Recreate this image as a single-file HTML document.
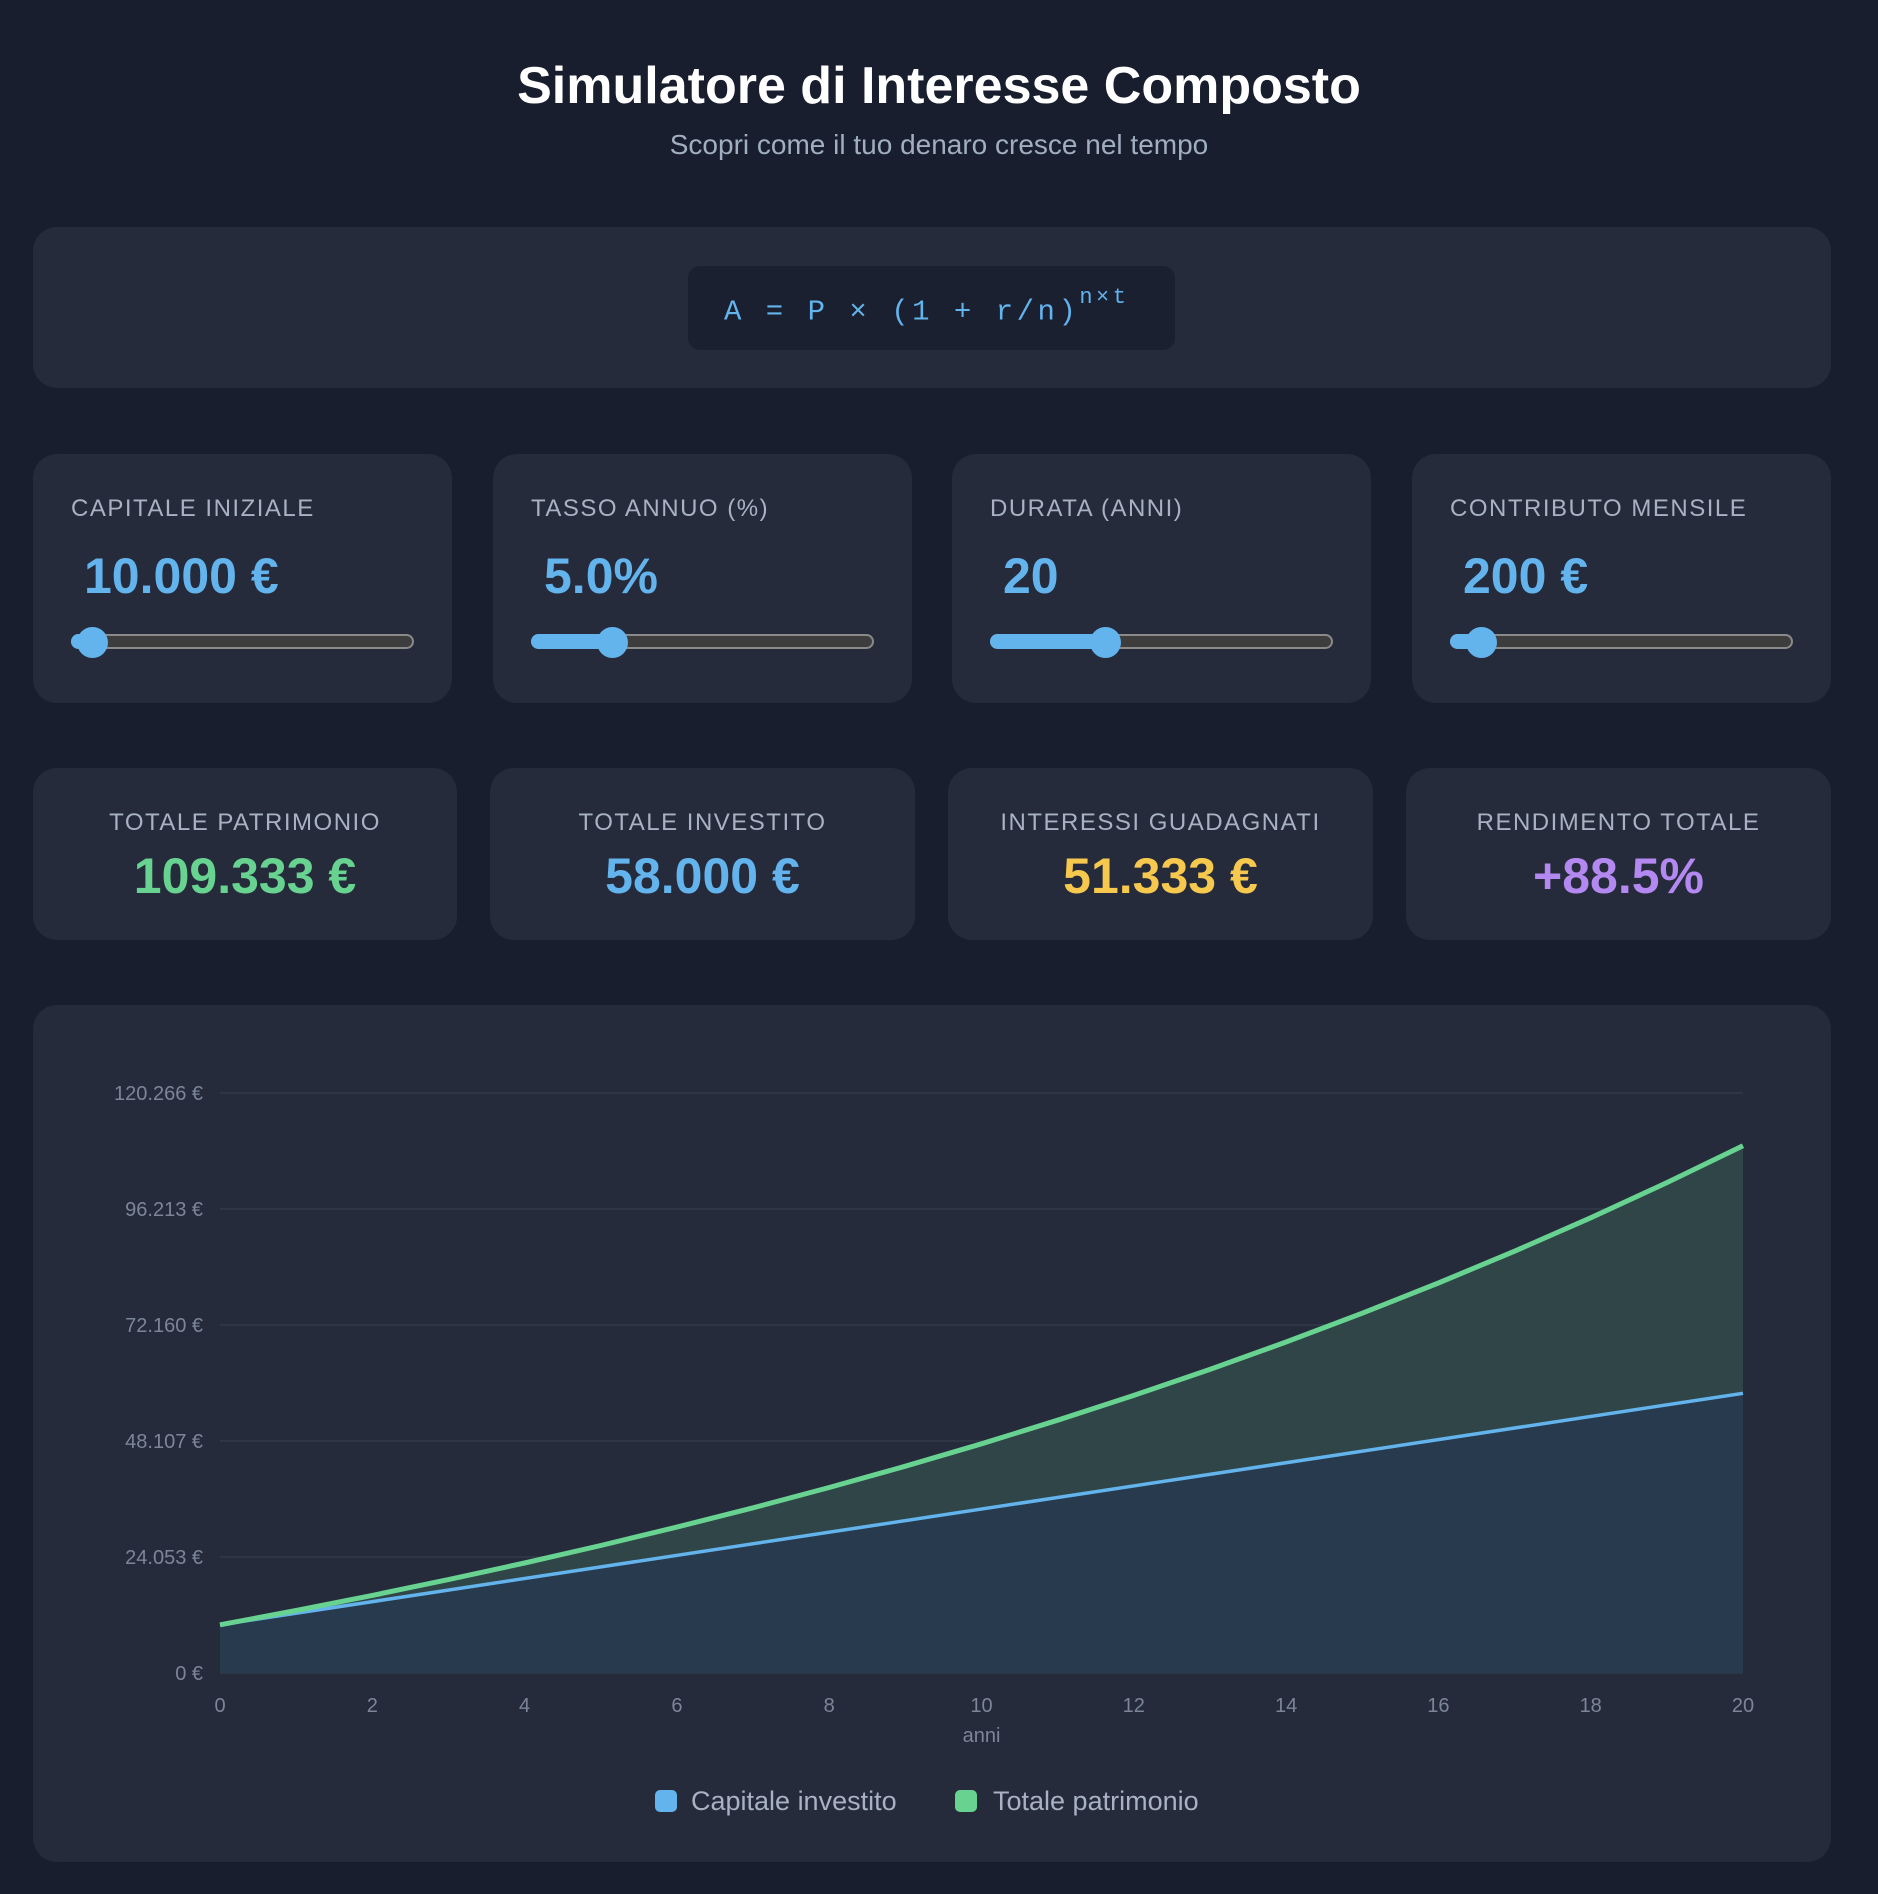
<!DOCTYPE html>
<html><head><meta charset="utf-8"><style>
*{margin:0;padding:0;box-sizing:border-box}
body{width:1878px;height:1894px;background:#181e2d;font-family:"Liberation Sans",sans-serif;position:relative;overflow:hidden;color:#fff}
.a{position:absolute}
.card{position:absolute;background:#252b3b;border-radius:24px}
h1{position:absolute;top:56px;left:0;width:1878px;text-align:center;font-size:52px;font-weight:bold;color:#fff}
.sub{top:129px;left:0;width:1878px;text-align:center;font-size:28px;color:#a0aec0}
.lab{font-size:24px;color:#a8b2c2;letter-spacing:1.5px}
.val{font-size:50px;font-weight:bold;color:#63b3ed}
.track{position:absolute;height:15px;border-radius:8px;background:#3d3d3d;border:2px solid #8a8a8a}
.fill{position:absolute;height:15px;border-radius:8px 0 0 8px;background:#63b3ed}
.thumb{position:absolute;width:31px;height:31px;border-radius:50%;background:#63b3ed}
.st{position:absolute;width:100%;text-align:center}
</style></head><body>
<h1>Simulatore di Interesse Composto</h1>
<div class="a sub">Scopri come il tuo denaro cresce nel tempo</div>

<div class="card" style="left:33px;top:227px;width:1798px;height:161px"></div>
<div class="a" style="left:688px;top:266px;width:487px;height:84px;background:#1a2030;border-radius:12px"></div>
<div class="a" style="left:724px;top:291px;font-family:'Liberation Mono',monospace;font-size:29px;letter-spacing:3.5px;color:#63b3ed;white-space:pre">A = P × (1 + r/n)<sup style="font-size:22px;position:relative;top:-6px">n×t</sup></div>

<div class="card" style="left:33px;top:454px;width:419px;height:249px"></div>
<div class="card" style="left:493px;top:454px;width:419px;height:249px"></div>
<div class="card" style="left:952px;top:454px;width:419px;height:249px"></div>
<div class="card" style="left:1412px;top:454px;width:419px;height:249px"></div>

<div class="a lab" style="left:71px;top:495px">CAPITALE INIZIALE</div>
<div class="a lab" style="left:531px;top:495px">TASSO ANNUO (%)</div>
<div class="a lab" style="left:990px;top:495px">DURATA (ANNI)</div>
<div class="a lab" style="left:1450px;top:495px">CONTRIBUTO MENSILE</div>
<div class="a val" style="left:84px;top:547px">10.000 €</div>
<div class="a val" style="left:544px;top:547px">5.0%</div>
<div class="a val" style="left:1003px;top:547px">20</div>
<div class="a val" style="left:1463px;top:547px">200 €</div>

<div class="track" style="left:71px;top:634px;width:343px"></div>
<div class="fill" style="left:71px;top:634px;width:21px"></div>
<div class="thumb" style="left:77px;top:627px"></div>
<div class="track" style="left:531px;top:634px;width:343px"></div>
<div class="fill" style="left:531px;top:634px;width:81px"></div>
<div class="thumb" style="left:597px;top:627px"></div>
<div class="track" style="left:990px;top:634px;width:343px"></div>
<div class="fill" style="left:990px;top:634px;width:115px"></div>
<div class="thumb" style="left:1090px;top:627px"></div>
<div class="track" style="left:1450px;top:634px;width:343px"></div>
<div class="fill" style="left:1450px;top:634px;width:31px"></div>
<div class="thumb" style="left:1466px;top:627px"></div>

<div class="card" style="left:33px;top:768px;width:424px;height:172px"><div class="st lab" style="top:41px">TOTALE PATRIMONIO</div><div class="st val" style="top:79px;color:#68d391">109.333 €</div></div>
<div class="card" style="left:490px;top:768px;width:425px;height:172px"><div class="st lab" style="top:41px">TOTALE INVESTITO</div><div class="st val" style="top:79px;color:#63b3ed">58.000 €</div></div>
<div class="card" style="left:948px;top:768px;width:425px;height:172px"><div class="st lab" style="top:41px">INTERESSI GUADAGNATI</div><div class="st val" style="top:79px;color:#f6c94e">51.333 €</div></div>
<div class="card" style="left:1406px;top:768px;width:425px;height:172px"><div class="st lab" style="top:41px">RENDIMENTO TOTALE</div><div class="st val" style="top:79px;color:#b388f0">+88.5%</div></div>

<div class="card" style="left:33px;top:1005px;width:1798px;height:857px"></div>
<svg class="a" style="left:0;top:0" width="1878" height="1894" font-family="Liberation Sans, sans-serif">
<g stroke="#323a4b" stroke-width="1.5">
<line x1="220" x2="1743" y1="1093" y2="1093"/><line x1="220" x2="1743" y1="1209" y2="1209"/><line x1="220" x2="1743" y1="1325" y2="1325"/><line x1="220" x2="1743" y1="1441" y2="1441"/><line x1="220" x2="1743" y1="1557" y2="1557"/><line x1="220" x2="1743" y1="1673" y2="1673"/>
</g>
<polygon fill="#2f4548" points="220,1673 220,1624.8 296.2,1610.5 372.3,1595.4 448.5,1579.6 524.6,1563 600.8,1545.5 676.9,1527.1 753.1,1507.8 829.2,1487.5 905.4,1466.2 981.5,1443.8 1057.7,1420.2 1133.8,1395.4 1210,1369.4 1286.1,1342 1362.3,1313.2 1438.4,1283 1514.6,1251.2 1590.7,1217.8 1666.9,1182.6 1743,1145.7 1743,1673"/>
<polygon fill="#283a4d" points="220,1673 220,1624.8 1743,1393.3 1743,1673"/>
<line x1="220" y1="1624.8" x2="1743" y2="1393.3" stroke="#63b3ed" stroke-width="3.5"/>
<polyline fill="none" stroke="#68d391" stroke-width="5" stroke-linejoin="round" points="220,1624.8 296.2,1610.5 372.3,1595.4 448.5,1579.6 524.6,1563 600.8,1545.5 676.9,1527.1 753.1,1507.8 829.2,1487.5 905.4,1466.2 981.5,1443.8 1057.7,1420.2 1133.8,1395.4 1210,1369.4 1286.1,1342 1362.3,1313.2 1438.4,1283 1514.6,1251.2 1590.7,1217.8 1666.9,1182.6 1743,1145.7"/>
<g fill="#7c8698" font-size="20" text-anchor="end">
<text x="203" y="1100">120.266 €</text><text x="203" y="1216">96.213 €</text><text x="203" y="1332">72.160 €</text><text x="203" y="1448">48.107 €</text><text x="203" y="1564">24.053 €</text><text x="203" y="1680">0 €</text>
</g>
<g fill="#7c8698" font-size="20" text-anchor="middle">
<text x="220" y="1712">0</text><text x="372.3" y="1712">2</text><text x="524.6" y="1712">4</text><text x="676.9" y="1712">6</text><text x="829.2" y="1712">8</text><text x="981.5" y="1712">10</text><text x="1133.8" y="1712">12</text><text x="1286.1" y="1712">14</text><text x="1438.4" y="1712">16</text><text x="1590.7" y="1712">18</text><text x="1743" y="1712">20</text>
<text x="981.5" y="1742">anni</text>
</g>
<rect x="655" y="1790" width="22" height="22" rx="5" fill="#63b3ed"/>
<text x="691" y="1810" fill="#a8b2c2" font-size="27">Capitale investito</text>
<rect x="955" y="1790" width="22" height="22" rx="5" fill="#68d391"/>
<text x="993" y="1810" fill="#a8b2c2" font-size="27">Totale patrimonio</text>
</svg>
</body></html>
